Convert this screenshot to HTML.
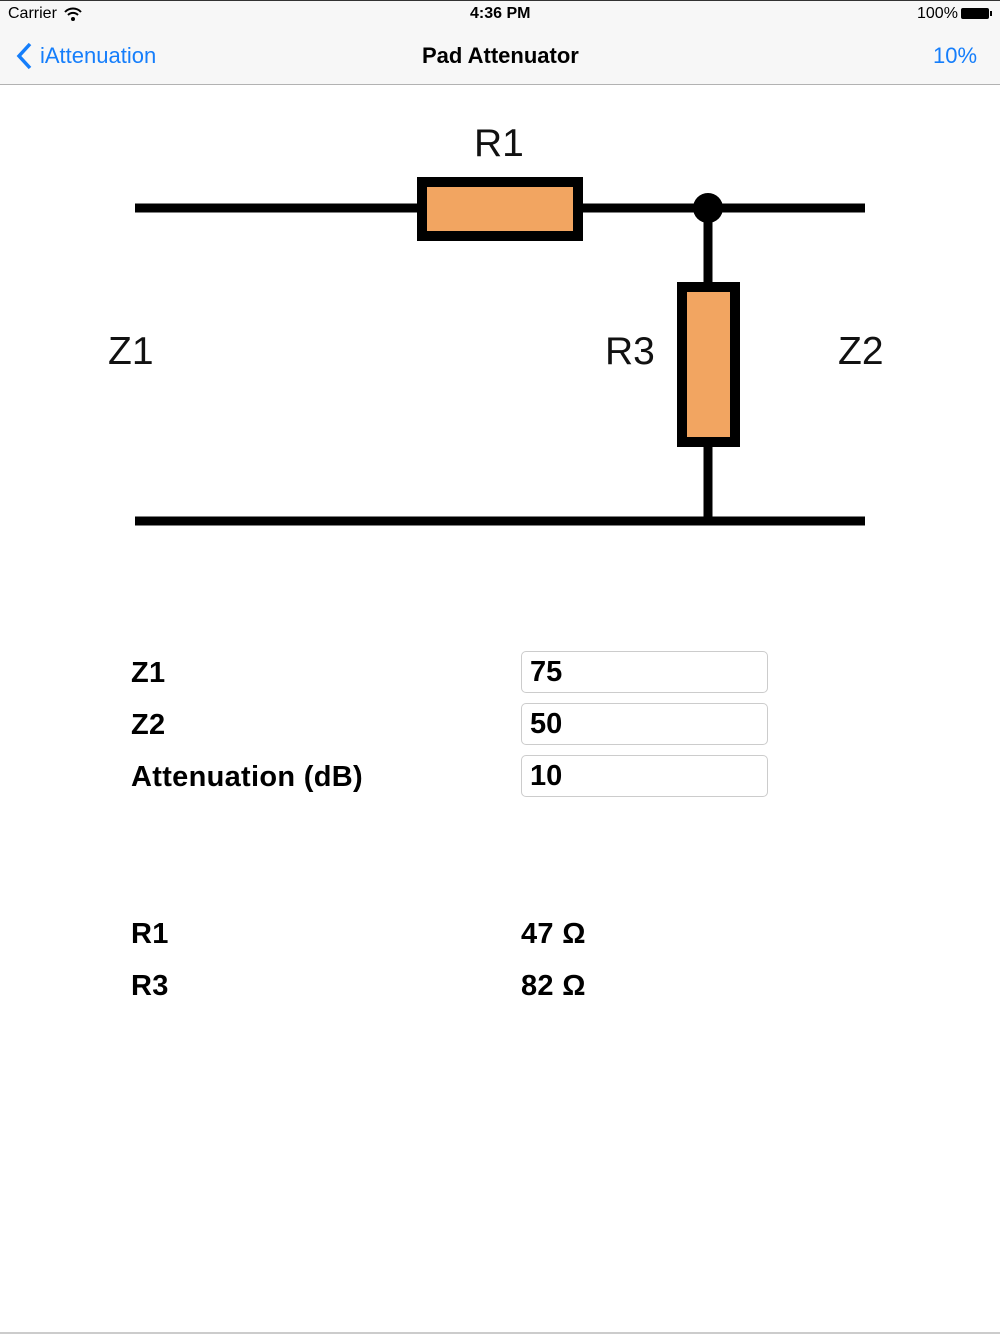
<!DOCTYPE html>
<html><head><meta charset="utf-8"><style>
body{margin:0;width:1000px;height:1334px;background:#fff;position:relative;overflow:hidden;font-family:"Liberation Sans",sans-serif}
.t{position:absolute;white-space:nowrap}
.lbl{font-size:29px;color:#000;font-weight:bold;letter-spacing:0.3px}
.fld{position:absolute;left:521px;width:247px;height:42px;border:1px solid #ccc;border-radius:5px;box-sizing:border-box}
.fld span{position:absolute;left:8px;top:4px;font-size:29px;font-weight:bold}
</style></head><body>
<div style="position:absolute;left:0;top:0;width:1000px;height:84px;background:#f7f7f7;border-bottom:1px solid #b2b2b2"></div>
<div style="position:absolute;left:0;top:0;width:1000px;height:1px;background:#333"></div>
<div class="t" style="left:8px;top:5px;font-size:16px">Carrier</div>
<svg style="position:absolute;left:64px;top:7px" width="18" height="14" viewBox="0 0 18 14"><path d="M1 5 A11 11 0 0 1 17 5" stroke="#000" stroke-width="2" fill="none"/><path d="M4 8 A7 7 0 0 1 14 8" stroke="#000" stroke-width="2" fill="none"/><circle cx="9" cy="12" r="2" fill="#000"/></svg>
<div class="t" style="left:470px;top:5px;font-size:16px;font-weight:bold">4:36 PM</div>
<div class="t" style="left:917px;top:5px;font-size:16px">100%</div>
<div style="position:absolute;left:961px;top:8px;width:28px;height:11px;background:#000;border-radius:2px"></div>
<div style="position:absolute;left:990px;top:11px;width:2px;height:5px;background:#000"></div>
<svg style="position:absolute;left:15px;top:42px" width="20" height="28"><path d="M15 2 L4 14 L15 26" stroke="#157efb" stroke-width="3.5" fill="none"/></svg>
<div class="t" style="left:40px;top:43px;font-size:22px;color:#157efb">iAttenuation</div>
<div class="t" style="left:422px;top:43px;font-size:22px;font-weight:bold">Pad Attenuator</div>
<div class="t" style="left:933px;top:43px;font-size:22px;color:#157efb">10%</div>
<svg style="position:absolute;left:0;top:0" width="1000" height="560">
<g stroke="#000" stroke-width="9" fill="none">
<line x1="135" y1="208" x2="865" y2="208"/>
<line x1="708" y1="208" x2="708" y2="521"/>
<line x1="135" y1="521" x2="865" y2="521"/>
</g>
<rect x="422" y="182" width="156" height="54" fill="#f2a561" stroke="#000" stroke-width="10"/>
<rect x="682" y="287" width="53" height="155" fill="#f2a561" stroke="#000" stroke-width="10"/>
<circle cx="708" cy="208" r="15" fill="#000"/>
<g font-family="Liberation Sans,sans-serif" font-size="39" fill="#111">
<text x="474" y="156">R1</text>
<text x="108" y="364">Z1</text>
<text x="605" y="364">R3</text>
<text x="838" y="364">Z2</text>
</g>
</svg>
<div class="t lbl" style="left:131px;top:657px">Z1</div>
<div class="t lbl" style="left:131px;top:709px">Z2</div>
<div class="t lbl" style="left:131px;top:761px">Attenuation (dB)</div>
<div class="fld" style="top:651px"><span>75</span></div>
<div class="fld" style="top:703px"><span>50</span></div>
<div class="fld" style="top:755px"><span>10</span></div>
<div class="t lbl" style="left:131px;top:918px">R1</div>
<div class="t lbl" style="left:131px;top:970px">R3</div>
<div class="t lbl" style="left:521px;top:918px">47 Ω</div>
<div class="t lbl" style="left:521px;top:970px">82 Ω</div>
<div style="position:absolute;left:0;top:1332px;width:1000px;height:2px;background:#ccc"></div>
</body></html>
